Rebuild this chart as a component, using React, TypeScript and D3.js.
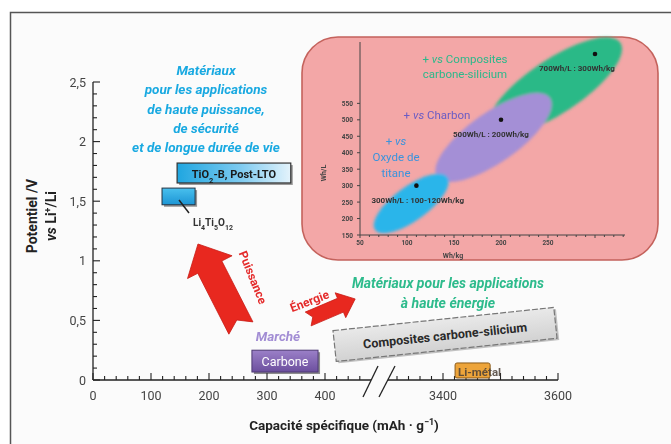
import React from "react";
import * as d3 from "d3";

// ---------- main chart data ----------
const yTickValues = [0, 0.5, 1, 1.5, 2, 2.5];
const yTickLabels = ["0", "0,5", "1", "1,5", "2", "2,5"];
const xTicksLeft = [0, 100, 200, 300, 400];
const xTicksRight = [3400, 3600];
const xMajorRight = [3400, 3500, 3600];

// materials (capacity range mAh/g, potential range V)
const tio2Box = { x: [145, 341], y: [1.653, 1.82], label: "TiO2-B, Post-LTO" };
const ltoBox = { x: [119, 176], y: [1.47, 1.61] };
const carboneBox = { x: [274, 388], y: [0.067, 0.25], label: "Carbone" };
const liMetalBox = { x: [3421, 3482], y: [0.017, 0.143], label: "Li-métal" };
const compositeBox = { cx: 607, cy: 0.378, label: "Composites carbone-silicium" };

// arrows: [tail, tip] in (mAh/g, V)
const arrowPuissance = { tail: [255, 0.436], tip: [181, 1.141] };
const arrowEnergie = { tail: [371, 0.512], tip: [452, 0.68] };

const blueLines = [
  "Matériaux",
  "pour les applications",
  "de haute puissance,",
  "de sécurité",
  "et de longue durée de vie",
];
const greenLines = ["Matériaux pour les applications", "à haute énergie"];

// ---------- inset chart data ----------
const insetXTicks = [50, 100, 150, 200, 250];
const insetYTicks = [150, 200, 250, 300, 350, 400, 450, 500, 550];
const insetPoints = [
  { whkg: 110, whl: 300, label: "300Wh/L : 100-120Wh/kg", dx: -45 },
  { whkg: 200, whl: 500, label: "500Wh/L : 200Wh/kg", dx: -48 },
  { whkg: 300, whl: 700, label: "700Wh/L : 300Wh/kg", dx: -56 },
];
// blobs: ends in (Wh/kg, Wh/L)
const insetBlobs = [
  { name: "green", from: [188, 469], to: [327, 734], color: "#2cb987", width: 54 },
  { name: "purple", from: [132, 326], to: [252, 566], color: "#a48fd6", width: 50 },
  { name: "blue", from: [66, 165], to: [143, 326], color: "#2bb5ea", width: 34 },
];

const FONT = "Roboto, 'Open Sans', sans-serif";

function arrowPath(
  t: [number, number],
  p: [number, number],
  sw: number,
  hw: number,
  hl: number,
  notch: number
) {
  const dx = p[0] - t[0];
  const dy = p[1] - t[1];
  const L = Math.hypot(dx, dy);
  const ux = dx / L, uy = dy / L;
  const px = -uy, py = ux;
  const bx = p[0] - ux * hl, by = p[1] - uy * hl;
  const pts: [number, number][] = [
    [t[0] + px * sw / 2, t[1] + py * sw / 2],
    [bx + px * sw / 2, by + py * sw / 2],
    [bx + px * hw / 2, by + py * hw / 2],
    [p[0], p[1]],
    [bx - px * hw / 2, by - py * hw / 2],
    [bx - px * sw / 2, by - py * sw / 2],
    [t[0] - px * sw / 2, t[1] - py * sw / 2],
    [t[0] + ux * notch, t[1] + uy * notch],
  ];
  return "M" + pts.map((q) => q.join(",")).join("L") + "Z";
}

export default function App() {
  const y = d3.scaleLinear().domain([0, 2.5]).range([380, 82]);
  const xL = d3.scaleLinear().domain([0, 400]).range([93, 325]);
  const xR = d3.scaleLinear().domain([3400, 3600]).range([443, 558]);

  const ix = d3.scaleLinear().domain([50, 300]).range([360, 595]);
  const iy = d3.scaleLinear().domain([150, 700]).range([235, 54]);

  const yMinor = d3.range(0, 2.501, 0.1);
  const xMinorL = d3.range(0, 461, 20);
  const xMinorR = d3.range(3320, 3601, 20);

  const pA = arrowPath(
    [xL(arrowPuissance.tail[0]), y(arrowPuissance.tail[1])],
    [xL(arrowPuissance.tip[0]), y(arrowPuissance.tip[1])],
    27, 50, 26, 9
  );
  const eA = arrowPath(
    [xL(arrowEnergie.tail[0]), y(arrowEnergie.tail[1])],
    [xL(arrowEnergie.tip[0]), y(arrowEnergie.tip[1])],
    15, 27, 16, 5
  );

  const compCx = xL(compositeBox.cx);
  const compCy = y(compositeBox.cy);

  return (
    <svg
      width={671}
      height={444}
      style={{ position: "absolute", left: 0, top: 0, fontFamily: FONT }}
    >
      <defs>
        <filter id="blur" x="-30%" y="-30%" width="160%" height="160%">
          <feGaussianBlur stdDeviation="1.8" />
        </filter>
        <filter id="soft" x="-10%" y="-10%" width="120%" height="120%">
          <feGaussianBlur stdDeviation="0.5" />
        </filter>
        <linearGradient id="blueGrad" x1="0" x2="1" y1="0" y2="0">
          <stop offset="0%" stopColor="#1fa6e0" />
          <stop offset="55%" stopColor="#7ccaf0" />
          <stop offset="100%" stopColor="#e4f3fb" />
        </linearGradient>
        <linearGradient id="blueGrad2" x1="0" x2="0" y1="0" y2="1">
          <stop offset="0%" stopColor="#49c0ee" />
          <stop offset="100%" stopColor="#1c95d4" />
        </linearGradient>
        <linearGradient id="purpleGrad" x1="0" x2="0" y1="0" y2="1">
          <stop offset="0%" stopColor="#9b80c8" />
          <stop offset="100%" stopColor="#6c4f9e" />
        </linearGradient>
        <linearGradient id="grayGrad" x1="0" x2="0" y1="0" y2="1">
          <stop offset="0%" stopColor="#e9e9e9" />
          <stop offset="100%" stopColor="#d2d2d2" />
        </linearGradient>
      </defs>

      <rect x={0} y={0} width={671} height={444} fill="#ffffff" />
      <rect x={10.5} y={12.5} width={700} height={500} fill="#fbfbfb" stroke="#555" strokeWidth={1.5} />

      {/* ---------- inset panel ---------- */}
      <rect x={302} y={37} width={356} height={223} rx={36} fill="#f3a7a7" stroke="#c4625c" strokeWidth={1.6} />
      <g filter="url(#blur)">
        {insetBlobs.map((b) => {
          const x1 = ix(b.from[0]), y1 = iy(b.from[1]);
          const x2 = ix(b.to[0]), y2 = iy(b.to[1]);
          const cx = (x1 + x2) / 2, cy = (y1 + y2) / 2;
          const rx = Math.hypot(x2 - x1, y2 - y1) / 2;
          const ang = (Math.atan2(y2 - y1, x2 - x1) * 180) / Math.PI;
          return (
            <ellipse
              key={b.name}
              cx={cx}
              cy={cy}
              rx={rx}
              ry={b.width / 2}
              fill={b.color}
              transform={`rotate(${ang},${cx},${cy})`}
            />
          );
        })}
      </g>
      {/* inset axes */}
      <line x1={360} x2={360} y1={42} y2={235} stroke="#444" strokeWidth={1} />
      <line x1={360} x2={625} y1={235} y2={235} stroke="#444" strokeWidth={1} />
      {insetYTicks.map((v) => (
        <g key={"iy" + v}>
          <line x1={357} x2={360} y1={iy(v)} y2={iy(v)} stroke="#444" />
          <text x={353} y={iy(v) + 2.5} fontSize={6.5} fontWeight={700} fill="#444" textAnchor="end">
            {v}
          </text>
        </g>
      ))}
      {d3.range(50, 331, 10).map((v) => (
        <line key={"ixm" + v} x1={ix(v)} x2={ix(v)} y1={235} y2={v % 50 === 0 ? 238 : 237} stroke="#444" />
      ))}
      {insetXTicks.map((v) => (
        <text key={"ix" + v} x={ix(v)} y={245} fontSize={6.5} fontWeight={700} fill="#444" textAnchor="middle">
          {v}
        </text>
      ))}
      <text x={453} y={258} fontSize={7} fontWeight={700} fill="#444" textAnchor="middle">
        Wh/kg
      </text>
      <text
        transform="translate(326,173) rotate(-90)"
        fontSize={7}
        fontWeight={700}
        fill="#444"
        textAnchor="middle"
      >
        Wh/L
      </text>
      {insetPoints.map((p) => (
        <g key={p.label}>
          <circle cx={ix(p.whkg)} cy={iy(p.whl)} r={2.3} fill="#111" />
          <text
            x={ix(p.whkg) + p.dx}
            y={iy(p.whl) + 17}
            fontSize={8}
            fontWeight={700}
            fill="#333"
            filter="url(#soft)"
          >
            {p.label}
          </text>
        </g>
      ))}
      <text x={465} y={63} fontSize={11.5} fill="#2bb88a" textAnchor="middle">
        + <tspan fontStyle="italic">vs</tspan> Composites
      </text>
      <text x={465} y={78} fontSize={11.5} fill="#2bb88a" textAnchor="middle">
        carbone-silicium
      </text>
      <text x={437} y={119} fontSize={11.5} fill="#6a5cc4" textAnchor="middle">
        + <tspan fontStyle="italic">vs</tspan> Charbon
      </text>
      <text x={396} y={145} fontSize={11.5} fill="#3b93dc" textAnchor="middle">
        + <tspan fontStyle="italic">vs</tspan>
      </text>
      <text x={396} y={161} fontSize={11.5} fill="#3b93dc" textAnchor="middle">
        Oxyde de
      </text>
      <text x={396} y={177} fontSize={11.5} fill="#3b93dc" textAnchor="middle">
        titane
      </text>

      {/* ---------- main axes ---------- */}
      <line x1={93} x2={93} y1={y(2.5)} y2={y(0)} stroke="#222" strokeWidth={1.3} />
      {yMinor.map((v, i) => {
        const major = i % 5 === 0;
        return (
          <line key={"ym" + i} x1={93} x2={93 + (major ? 7 : 4)} y1={y(v)} y2={y(v)} stroke="#222" strokeWidth={1.1} />
        );
      })}
      {yTickValues.map((v, i) => (
        <text key={"yt" + v} x={86} y={y(v) + 4.5} fontSize={12.5} fill="#444" textAnchor="end">
          {yTickLabels[i]}
        </text>
      ))}

      <line x1={93} x2={371} y1={380} y2={380} stroke="#222" strokeWidth={1.3} />
      <line x1={388} x2={558} y1={380} y2={380} stroke="#222" strokeWidth={1.3} />
      {xMinorL.map((v) => (
        <line key={"xl" + v} x1={xL(v)} x2={xL(v)} y1={380} y2={380 - (v % 100 === 0 ? 7 : 4)} stroke="#222" strokeWidth={1.1} />
      ))}
      {xMinorR.map((v) => (
        <line
          key={"xr" + v}
          x1={xR(v)}
          x2={xR(v)}
          y1={380}
          y2={380 - (xMajorRight.includes(v) ? 7 : 4)}
          stroke="#222"
          strokeWidth={1.1}
        />
      ))}
      <line x1={363} y1={397} x2={378} y2={366} stroke="#222" strokeWidth={1.3} />
      <line x1={379} y1={397} x2={395} y2={366} stroke="#222" strokeWidth={1.3} />
      {xTicksLeft.map((v) => (
        <text key={"xtl" + v} x={xL(v)} y={400} fontSize={12.5} fill="#444" textAnchor="middle">
          {v}
        </text>
      ))}
      {xTicksRight.map((v) => (
        <text key={"xtr" + v} x={xR(v)} y={400} fontSize={12.5} fill="#444" textAnchor="middle">
          {v}
        </text>
      ))}

      <text x={344} y={430} fontSize={13.5} fontWeight={700} fill="#222" textAnchor="middle">
        Capacité spécifique (mAh · g
        <tspan baselineShift="super" fontSize={9}>−1</tspan>
        )
      </text>
      <text transform="translate(37,216) rotate(-90)" fontSize={14} fontWeight={700} fill="#222" textAnchor="middle">
        Potentiel /V
      </text>
      <text transform="translate(56,216) rotate(-90)" fontSize={14} fontWeight={700} fill="#222" textAnchor="middle">
        <tspan fontStyle="italic">vs</tspan> Li
        <tspan baselineShift="super" fontSize={9}>+</tspan>
        /Li
      </text>

      {/* ---------- blue annotation ---------- */}
      {blueLines.map((l, i) => (
        <text
          key={l}
          x={206}
          y={75 + i * 19.3}
          fontSize={13.5}
          fontWeight={700}
          fontStyle="italic"
          fill="#19a9e1"
          textAnchor="middle"
        >
          {l}
        </text>
      ))}

      {/* LTO boxes */}
      <rect
        x={xL(ltoBox.x[0]) + 2}
        y={y(ltoBox.y[1]) + 2}
        width={xL(ltoBox.x[1]) - xL(ltoBox.x[0])}
        height={y(ltoBox.y[0]) - y(ltoBox.y[1])}
        fill="#555"
        opacity={0.6}
      />
      <rect
        x={xL(ltoBox.x[0])}
        y={y(ltoBox.y[1])}
        width={xL(ltoBox.x[1]) - xL(ltoBox.x[0])}
        height={y(ltoBox.y[0]) - y(ltoBox.y[1])}
        fill="url(#blueGrad2)"
        stroke="#234"
        strokeWidth={1}
      />
      <rect
        x={xL(tio2Box.x[0]) + 2}
        y={y(tio2Box.y[1]) + 2}
        width={xL(tio2Box.x[1]) - xL(tio2Box.x[0])}
        height={y(tio2Box.y[0]) - y(tio2Box.y[1])}
        fill="#555"
        opacity={0.6}
      />
      <rect
        x={xL(tio2Box.x[0])}
        y={y(tio2Box.y[1])}
        width={xL(tio2Box.x[1]) - xL(tio2Box.x[0])}
        height={y(tio2Box.y[0]) - y(tio2Box.y[1])}
        fill="url(#blueGrad)"
        stroke="#333"
        strokeWidth={1.2}
      />
      <text
        x={(xL(tio2Box.x[0]) + xL(tio2Box.x[1])) / 2}
        y={y(tio2Box.y[0]) - 5}
        fontSize={11}
        fontWeight={700}
        fill="#1a1a1a"
        textAnchor="middle"
      >
        TiO<tspan baselineShift="sub" fontSize={7.5}>2</tspan>-B, Post-LTO
      </text>
      <line x1={179} y1={200} x2={189} y2={213} stroke="#222" strokeWidth={1.5} />
      <text x={193} y={226} fontSize={10} fontWeight={700} fill="#333">
        Li<tspan baselineShift="sub" fontSize={7}>4</tspan>Ti
        <tspan baselineShift="sub" fontSize={7}>5</tspan>O
        <tspan baselineShift="sub" fontSize={7}>12</tspan>
      </text>

      {/* arrows */}
      <path d={pA} fill="#e8281f" stroke="#c81a14" strokeWidth={0.8} />
      <path d={eA} fill="#e8281f" stroke="#c81a14" strokeWidth={0.8} />
      <text
        transform="translate(249,279) rotate(68)"
        fontSize={12}
        fontWeight={700}
        fill="#e42a2a"
        textAnchor="middle"
      >
        Puissance
      </text>
      <text
        transform="translate(311,305) rotate(-21)"
        fontSize={12}
        fontWeight={700}
        fill="#e42a2a"
        textAnchor="middle"
      >
        Énergie
      </text>

      <text x={278} y={341} fontSize={13.5} fontWeight={700} fontStyle="italic" fill="#a28dd4" textAnchor="middle">
        Marché
      </text>

      {/* Carbone box */}
      <rect
        x={xL(carboneBox.x[0]) + 2}
        y={y(carboneBox.y[1]) + 2}
        width={xL(carboneBox.x[1]) - xL(carboneBox.x[0])}
        height={y(carboneBox.y[0]) - y(carboneBox.y[1])}
        fill="#333"
        opacity={0.55}
      />
      <rect
        x={xL(carboneBox.x[0])}
        y={y(carboneBox.y[1])}
        width={xL(carboneBox.x[1]) - xL(carboneBox.x[0])}
        height={y(carboneBox.y[0]) - y(carboneBox.y[1])}
        fill="url(#purpleGrad)"
        stroke="#4e3a74"
        strokeWidth={1}
      />
      <text
        x={(xL(carboneBox.x[0]) + xL(carboneBox.x[1])) / 2}
        y={(y(carboneBox.y[0]) + y(carboneBox.y[1])) / 2 + 4.5}
        fontSize={12.5}
        fill="#ffffff"
        textAnchor="middle"
      >
        {carboneBox.label}
      </text>

      {/* green annotation */}
      {greenLines.map((l, i) => (
        <text
          key={l}
          x={448}
          y={288 + i * 19.5}
          fontSize={14}
          fontWeight={700}
          fontStyle="italic"
          fill="#2dbb8c"
          textAnchor="middle"
        >
          {l}
        </text>
      ))}

      {/* composites box */}
      <g transform={`translate(${compCx},${compCy}) rotate(-6)`}>
        <rect x={-109} y={-14} width={222} height={31} fill="#888" opacity={0.5} />
        <rect
          x={-111}
          y={-16}
          width={222}
          height={31}
          fill="url(#grayGrad)"
          stroke="#777"
          strokeWidth={1.2}
          strokeDasharray="6 2"
        />
        <text x={0} y={5} fontSize={12.5} fontWeight={700} fill="#2a2a2a" textAnchor="middle">
          {compositeBox.label}
        </text>
      </g>

      {/* Li-métal */}
      <rect
        x={xR(liMetalBox.x[0])}
        y={y(liMetalBox.y[1])}
        width={xR(liMetalBox.x[1]) - xR(liMetalBox.x[0])}
        height={y(liMetalBox.y[0]) - y(liMetalBox.y[1])}
        rx={2}
        fill="#eda43a"
        stroke="#8a5a1a"
        strokeWidth={1}
      />
      <text x={xR(liMetalBox.x[0]) + 3} y={376} fontSize={11.5} fontWeight={700} fill="#4a4038" opacity={0.85}>
        {liMetalBox.label}
      </text>
    </svg>
  );
}
